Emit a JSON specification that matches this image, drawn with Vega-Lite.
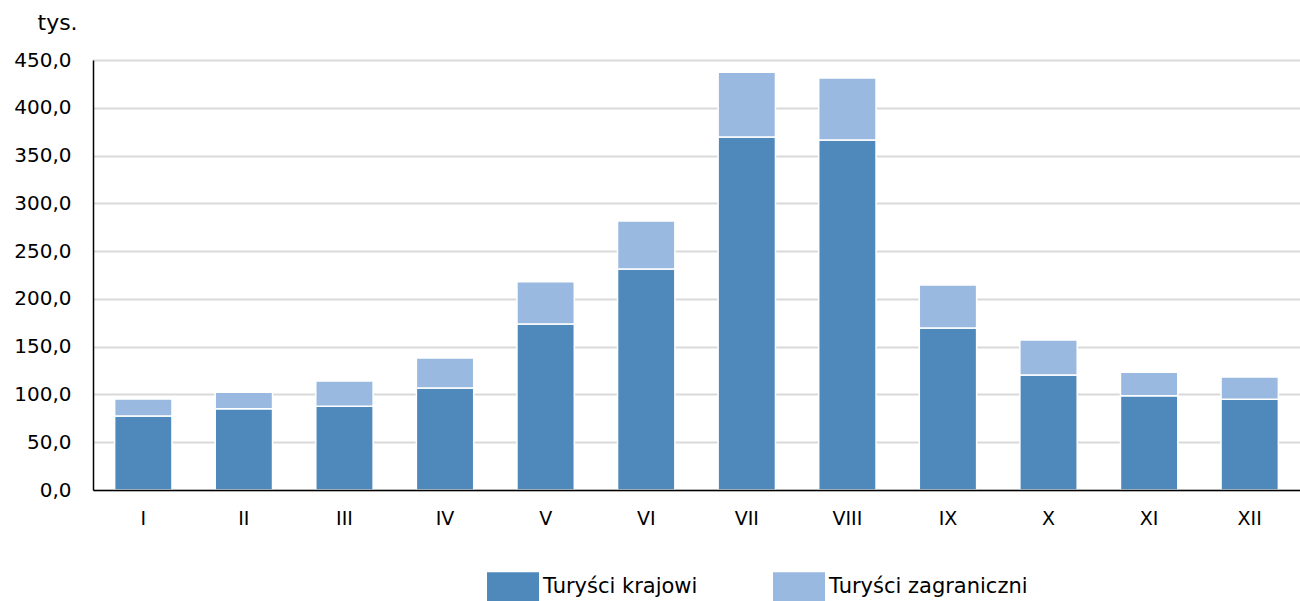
{
  "$schema": "https://vega.github.io/schema/vega-lite/v6.json",
  "width": 1207,
  "height": 430,
  "autosize": {"type": "none"},
  "padding": {"left": 93, "top": 60, "right": 0, "bottom": 111},
  "background": "white",
  "config": {
    "locale": {"number": {"decimal": ",", "thousands": " ", "grouping": [3], "currency": ["", " zł"]}},
    "view": {"stroke": null},
    "font": "DejaVu Sans"
  },
  "data": {
    "values": [
      {"m": "I", "s": "Turyści krajowi", "v": 77.4},
      {"m": "I", "s": "Turyści zagraniczni", "v": 17.8},
      {"m": "II", "s": "Turyści krajowi", "v": 85.0},
      {"m": "II", "s": "Turyści zagraniczni", "v": 17.2},
      {"m": "III", "s": "Turyści krajowi", "v": 87.6},
      {"m": "III", "s": "Turyści zagraniczni", "v": 26.5},
      {"m": "IV", "s": "Turyści krajowi", "v": 106.7},
      {"m": "IV", "s": "Turyści zagraniczni", "v": 31.4},
      {"m": "V", "s": "Turyści krajowi", "v": 173.7},
      {"m": "V", "s": "Turyści zagraniczni", "v": 44.3},
      {"m": "VI", "s": "Turyści krajowi", "v": 231.3},
      {"m": "VI", "s": "Turyści zagraniczni", "v": 50.2},
      {"m": "VII", "s": "Turyści krajowi", "v": 369.4},
      {"m": "VII", "s": "Turyści zagraniczni", "v": 67.7},
      {"m": "VIII", "s": "Turyści krajowi", "v": 366.3},
      {"m": "VIII", "s": "Turyści zagraniczni", "v": 64.8},
      {"m": "IX", "s": "Turyści krajowi", "v": 169.5},
      {"m": "IX", "s": "Turyści zagraniczni", "v": 45.0},
      {"m": "X", "s": "Turyści krajowi", "v": 120.3},
      {"m": "X", "s": "Turyści zagraniczni", "v": 36.7},
      {"m": "XI", "s": "Turyści krajowi", "v": 98.7},
      {"m": "XI", "s": "Turyści zagraniczni", "v": 24.5},
      {"m": "XII", "s": "Turyści krajowi", "v": 94.9},
      {"m": "XII", "s": "Turyści zagraniczni", "v": 23.4}
    ]
  },
  "mark": {"type": "bar", "stroke": "white", "strokeWidth": 1.5},
  "encoding": {
    "x": {
      "field": "m", "type": "nominal",
      "sort": ["I","II","III","IV","V","VI","VII","VIII","IX","X","XI","XII"],
      "scale": {"paddingInner": 0.43, "paddingOuter": 0.215},
      "axis": {
        "title": null, "labelAngle": 0, "ticks": false, "zindex": 1,
        "domainColor": "#000000", "domainWidth": 1.5,
        "labelFontSize": 19, "labelColor": "#000000", "labelPadding": 19,
        "labelFont": "DejaVu Sans"
      }
    },
    "y": {
      "field": "v", "type": "quantitative", "stack": "zero",
      "scale": {"domain": [0, 450], "nice": false},
      "axis": {
        "values": [0,50,100,150,200,250,300,350,400,450],
        "format": ".1f",
        "title": "tys.", "titleAngle": 0, "titleAlign": "left", "titleBaseline": "middle",
        "titleX": -56, "titleY": -38, "titleFontSize": 22, "titleFontWeight": "normal",
        "titleFont": "DejaVu Sans", "titleColor": "#000000",
        "ticks": false, "domainColor": "#000000", "domainWidth": 1.5,
        "gridColor": "#d9d9d9", "gridWidth": 2,
        "labelFontSize": 20, "labelColor": "#000000", "labelPadding": 22,
        "labelFont": "DejaVu Sans"
      }
    },
    "color": {
      "field": "s", "type": "nominal",
      "scale": {"domain": ["Turyści krajowi", "Turyści zagraniczni"], "range": ["#4F89BC", "#99B9E0"]},
      "legend": {
        "title": null, "orient": "none", "direction": "horizontal",
        "legendX": 394, "legendY": 501,
        "symbolType": "M-1,-0.57L1,-0.57L1,0.57L-1,0.57Z",
        "symbolSize": 2704, "symbolStrokeWidth": 0, "symbolOpacity": 1,
        "labelFontSize": 21, "labelColor": "#000000", "labelOffset": 4,
        "labelFont": "DejaVu Sans", "labelLimit": 400,
        "columnPadding": 75
      }
    },
    "order": {"field": "s", "sort": "ascending"}
  }
}
